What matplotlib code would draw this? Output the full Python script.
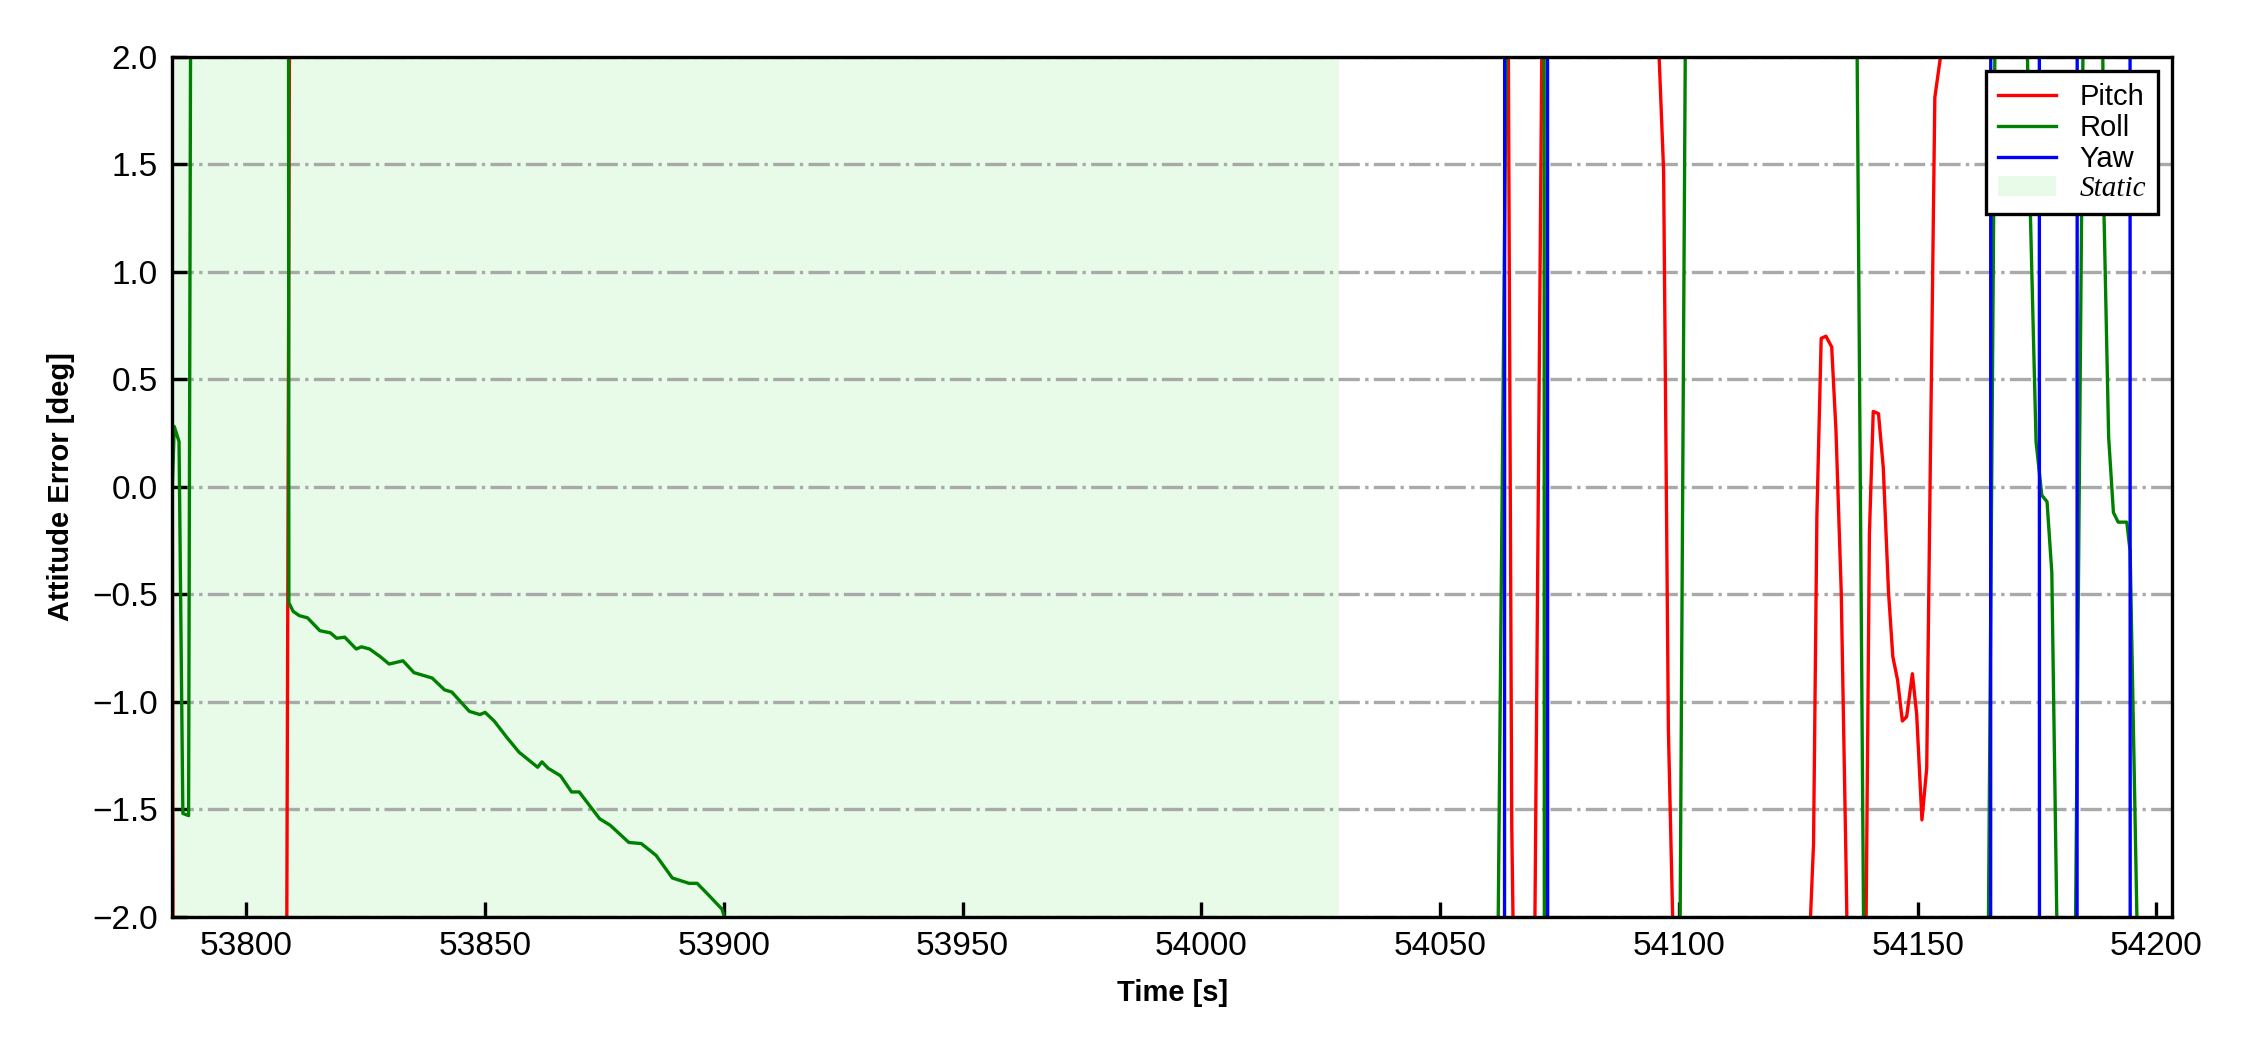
import matplotlib.pyplot as plt

plt.rcParams["font.family"] = ["Liberation Sans", "DejaVu Sans"]

OUT_PNG = "out.png"

T_START = 53784.5
T_END = 54203.3
STATIC_END = 54028.8

# attitude errors [deg]; anything beyond +-2 is off the plotted range
PITCH_T = [53784.5, 53785.0, 53808.2, 53809.3, 54063.5, 54065.0, 54066.0, 54069.5,
           54071.5, 54094.8, 54096.8, 54097.8, 54099.0, 54127.2, 54128.2, 54128.9,
           54129.8, 54130.8, 54132.0, 54132.9, 54134.0, 54135.0, 54136.0, 54138.6,
           54139.9, 54140.7, 54141.8, 54142.8, 54143.9, 54144.8, 54145.8, 54146.8,
           54147.7, 54148.9, 54149.8, 54150.9, 54151.9, 54152.6, 54153.6, 54155.1,
           54203.3]
PITCH_DEG = [0.0, -8.0, -4.0, 4.1, 6.0, -1.58, -3.2, -3.0,
             2.6, 2.6, 1.47, -1.13, -2.3, -2.2, -1.66, -0.14,
             0.69, 0.70, 0.65, 0.26, -0.49, -1.75, -3.2, -3.6,
             -0.22, 0.35, 0.34, 0.09, -0.49, -0.79, -0.90, -1.09,
             -1.07, -0.87, -1.06, -1.55, -1.31, 0.0, 1.81, 2.05,
             3.0]

ROLL_T = [53784.5, 53784.9, 53785.9, 53786.7, 53787.9, 53789.0, 53808.5, 53808.9,
          53809.8, 53811.1, 53812.8, 53814.1, 53815.4, 53817.6, 53818.9, 53820.6,
          53823.0, 53824.1, 53825.8, 53828.0, 53829.9, 53832.8, 53835.1, 53838.9,
          53841.5, 53843.0, 53846.7, 53848.9, 53850.0, 53851.9, 53854.5, 53857.1,
          53861.0, 53861.9, 53863.2, 53865.8, 53868.1, 53869.7, 53874.0, 53876.2,
          53880.1, 53882.7, 53885.8, 53889.2, 53892.7, 53894.4, 53896.6, 53899.6,
          53901.5, 54062.0, 54064.0, 54071.6, 54072.0, 54100.0, 54101.6, 54137.0,
          54139.0, 54164.5, 54166.5, 54172.5, 54173.6, 54174.2, 54174.8, 54176.0,
          54177.1, 54178.1, 54179.4, 54182.7, 54185.0, 54188.5, 54189.0, 54190.0,
          54191.0, 54192.0, 54193.8, 54194.5, 54196.5, 54203.3]
ROLL_DEG = [0.0, 0.28, 0.21, -1.52, -1.53, 8.0, 15.0, -0.54,
            -0.58, -0.60, -0.61, -0.64, -0.67, -0.68, -0.705, -0.70,
            -0.755, -0.745, -0.755, -0.79, -0.825, -0.81, -0.865, -0.89,
            -0.945, -0.955, -1.045, -1.06, -1.05, -1.09, -1.165, -1.235,
            -1.305, -1.28, -1.31, -1.345, -1.42, -1.42, -1.545, -1.575,
            -1.655, -1.66, -1.715, -1.82, -1.845, -1.845, -1.895, -1.965,
            -2.1, -2.4, 2.4, 20.0, -20.0, -3.0, 3.0, 3.0,
            -3.0, -3.0, 3.0, 2.6, 1.28, 0.74, 0.21, -0.04,
            -0.07, -0.40, -2.4, -3.0, 3.0, 2.9, 1.3, 0.23,
            -0.12, -0.165, -0.165, -0.30, -2.7, -3.0]

YAW_T = [53784.5, 54063.3, 54063.7, 54072.3, 54072.7, 54165.1, 54165.5,
         54175.3, 54175.7, 54183.2, 54183.6, 54194.3, 54194.7, 54203.3]
YAW_DEG = [-30.0, -30.0, 30.0, 30.0, -30.0, -30.0, 30.0,
           30.0, -30.0, -30.0, 30.0, 30.0, -30.0, -30.0]

Y_TICKS = [-2.0, -1.5, -1.0, -0.5, 0.0, 0.5, 1.0, 1.5, 2.0]
X_TICKS = [53800, 53850, 53900, 53950, 54000, 54050, 54100, 54150, 54200]


def main() -> None:
    fig = plt.figure(figsize=(7.5, 3.5), dpi=300)
    ax = fig.add_axes([0.0766, 0.127, 0.8888, 0.819])

    ax.axvspan(T_START, STATIC_END, color="lightgreen", alpha=0.2, lw=0, label="Static", zorder=1)
    ax.plot(PITCH_T, PITCH_DEG, color="red", lw=0.8, label="Pitch")
    ax.plot(ROLL_T, ROLL_DEG, color="green", lw=0.8, label="Roll")
    ax.plot(YAW_T, YAW_DEG, color="blue", lw=0.8, label="Yaw")

    ax.set_xlim(T_START, T_END)
    ax.set_ylim(-2.0, 2.0)
    ax.set_xticks(X_TICKS)
    ax.set_yticks(Y_TICKS)
    ax.set_yticklabels([f"{v:.1f}".replace("-", "\u2212") for v in Y_TICKS])
    ax.tick_params(direction="in", top=False, right=False, labelsize=8, width=0.8, length=3.5)
    ax.yaxis.grid(True, linestyle="-.", color="darkgray", lw=0.8)
    for spine in ax.spines.values():
        spine.set_linewidth(0.8)

    ax.set_xlabel("Time [s]", fontsize=7, fontweight="bold")
    ax.set_ylabel("Attitude Error [deg]", fontsize=7, fontweight="bold")

    handles, labels = ax.get_legend_handles_labels()
    order = [labels.index(name) for name in ["Pitch", "Roll", "Yaw", "Static"]]
    leg = ax.legend([handles[i] for i in order], [labels[i] for i in order],
                    loc="upper right", fontsize=7, fancybox=False, framealpha=1,
                    edgecolor="black", labelspacing=0.1, borderpad=0.4)
    leg.get_frame().set_linewidth(0.8)
    static_text = leg.get_texts()[3]
    static_text.set_fontfamily(["Liberation Serif", "DejaVu Serif"])
    static_text.set_fontstyle("italic")

    fig.savefig(OUT_PNG, dpi=300)
    plt.close(fig)


if __name__ == "__main__":
    main()
